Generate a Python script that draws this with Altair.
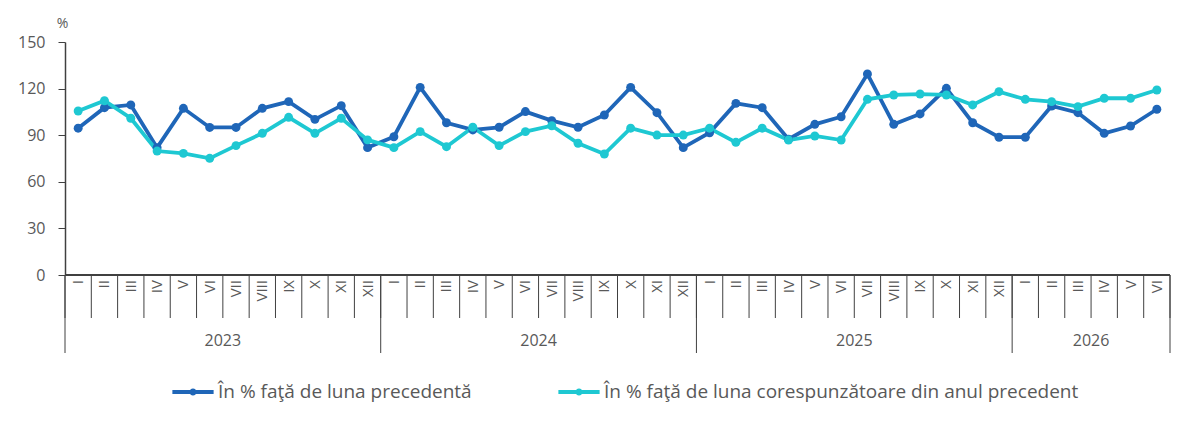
import altair as alt
import pandas as pd

years = ["2023"] * 12 + ["2024"] * 12 + ["2025"] * 12 + ["2026"] * 6
romans = ["I", "II", "III", "IV", "V", "VI", "VII", "VIII", "IX", "X", "XI", "XII"]
months = romans * 3 + romans[:6]

prev_month = [94.5, 107.7, 109.5, 82, 107.3, 95, 95, 107.3, 111.6, 100.2, 109, 82,
              89, 120.8, 98, 93.4, 95.1, 105.2, 99.4, 95.1, 103, 120.8, 104.5, 82,
              91.6, 110.5, 107.7, 87.4, 97, 101.9, 129.4, 97, 103.7, 120.2, 98, 88.7,
              88.7, 108.8, 104.5, 91.2, 95.9, 106.7]
prev_year = [105.6, 112.2, 100.9, 79.8, 78.3, 75.1, 83.3, 91.2, 101.5, 91.2, 100.9, 87,
             82, 92.3, 82.6, 95.1, 83.3, 92.3, 96.1, 84.8, 77.9, 94.5, 90.1, 90.1,
             94.5, 85.4, 94.5, 86.9, 89.5, 86.9, 113.1, 115.9, 116.5, 115.9, 109.5, 118,
             113.1, 111.6, 108.4, 113.8, 113.8, 119.1]

s1 = "În % faţă de luna precedentă"
s2 = "În % faţă de luna corespunzătoare din anul precedent"

n = len(months)
idx = list(range(n))
long = pd.DataFrame({
    "idx": idx * 2,
    "val": prev_month + prev_year,
    "serie": [s1] * n + [s2] * n,
})
lab = pd.DataFrame({"idx": idx, "m": months})
sep = pd.DataFrame({"b": [i - 0.5 for i in idx] + [n - 0.5]})
year_names = ["2023", "2024", "2025", "2026"]
ystart = [years.index(y) for y in year_names]
yend = [len(years) - years[::-1].index(y) for y in year_names]
yr = pd.DataFrame({"y": year_names, "c": [(a + b) / 2 - 0.5 for a, b in zip(ystart, yend)]})
ysep = pd.DataFrame({"b": [a - 0.5 for a in ystart] + [n - 0.5]})

W, H = 1105, 233
FONT = "Open Sans"
TXT = "#595959"
AX = "#404040"
COLS = ["#1f66b8", "#1ec8d2"]

xs = alt.Scale(domain=[-0.5, n - 0.5], nice=False, zero=False)
cscale = alt.Scale(domain=[s1, s2], range=COLS)
leg = alt.Legend(
    title=None, orient="none", direction="horizontal",
    legendX=105, legendY=327,
    symbolType="M-1,0 L1,0 M-0.08,0 A0.08,0.08 0 1,0 0.08,0 A0.08,0.08 0 1,0 -0.08,0",
    symbolSize=1700, symbolStrokeWidth=3.8,
    labelFont=FONT, labelFontSize=19, labelColor=TXT, labelOffset=2, labelLimit=0,
    columnPadding=78)

base = alt.Chart(long)
lines = base.mark_line(strokeWidth=3.8).encode(
    x=alt.X("idx:Q", scale=xs, axis=None),
    y=alt.Y("val:Q", scale=alt.Scale(domain=[0, 150], nice=False),
            axis=alt.Axis(values=[0, 30, 60, 90, 120, 150], grid=False, title="%",
                          titleAngle=0, titleX=-3, titleY=-12, titleAlign="center",
                          titleBaseline="bottom", titleFont=FONT, titleFontSize=14,
                          titleFontWeight="normal", titleColor=TXT,
                          labelFont=FONT, labelFontSize=16, labelColor=TXT, labelPadding=13,
                          tickSize=7, tickColor=AX, domainColor=AX, domainWidth=1.5)),
    color=alt.Color("serie:N", scale=cscale, legend=leg),
)
pts = base.mark_circle(size=80, opacity=1).encode(
    x=alt.X("idx:Q", scale=xs), y="val:Q",
    color=alt.Color("serie:N", scale=cscale, legend=None),
)

xdomain = alt.Chart(sep).mark_rule(color=AX, strokeWidth=1.5).encode(
    x=alt.value(0), x2=alt.value(W), y=alt.value(H))
msep = alt.Chart(sep).mark_rule(color=AX, strokeWidth=1).encode(
    x=alt.X("b:Q", scale=xs), y=alt.value(H), y2=alt.value(H + 43))
ysepm = alt.Chart(ysep).mark_rule(color=AX, strokeWidth=1).encode(
    x=alt.X("b:Q", scale=xs), y=alt.value(H), y2=alt.value(H + 78))
mlab = alt.Chart(lab).mark_text(angle=270, align="right", baseline="middle", font=FONT,
                                fontSize=15, color=TXT).encode(
    x=alt.X("idx:Q", scale=xs), y=alt.value(H + 5), text="m:N")
ylab = alt.Chart(yr).mark_text(baseline="middle", font=FONT, fontSize=16, color=TXT).encode(
    x=alt.X("c:Q", scale=xs), y=alt.value(H + 66), text="y:N")

chart = alt.layer(lines, pts, xdomain, msep, ysepm, mlab, ylab).properties(
    width=W, height=H,
    autosize=alt.AutoSizeParams(type="none"),
    padding={"left": 57, "top": 34, "right": 20, "bottom": 140},
).configure(background="white").configure_view(stroke=None)

chart.save("out.html", embed_options={"renderer": "svg", "actions": False})
